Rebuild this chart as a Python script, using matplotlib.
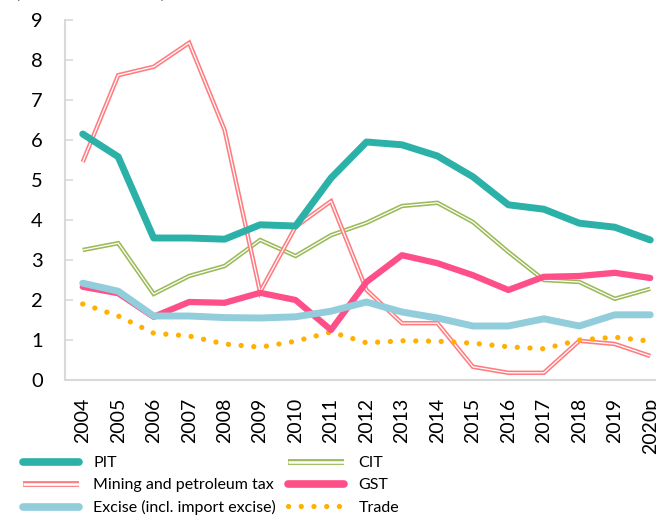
import matplotlib
matplotlib.use("Agg")
import matplotlib.pyplot as plt
import matplotlib.patheffects as pe
import numpy as np

plt.rcParams['font.family'] = ['Lato', 'DejaVu Sans']

years = ["2004", "2005", "2006", "2007", "2008", "2009", "2010", "2011", "2012",
         "2013", "2014", "2015", "2016", "2017", "2018", "2019", "2020p"]

pit = [6.15, 5.58, 3.55, 3.55, 3.52, 3.88, 3.85, 5.05, 5.95, 5.88, 5.6, 5.08,
       4.38, 4.27, 3.92, 3.82, 3.5]
mining = [5.45, 7.62, 7.83, 8.43, 6.25, 2.2, 3.83, 4.47, 2.25, 1.42, 1.42, 0.33,
          0.18, 0.18, 0.98, 0.9, 0.6]
cit = [3.25, 3.42, 2.15, 2.6, 2.85, 3.5, 3.1, 3.62, 3.93, 4.35, 4.43, 3.95,
       3.2, 2.5, 2.45, 2.03, 2.28]
gst = [2.33, 2.17, 1.58, 1.95, 1.93, 2.18, 2.0, 1.25, 2.45, 3.12, 2.92, 2.62,
       2.25, 2.58, 2.6, 2.68, 2.55]
excise = [2.42, 2.22, 1.6, 1.6, 1.56, 1.55, 1.58, 1.72, 1.95, 1.7, 1.55, 1.35,
          1.35, 1.53, 1.35, 1.63, 1.63]
trade = [1.9, 1.6, 1.17, 1.1, 0.9, 0.82, 0.97, 1.2, 0.93, 0.98, 0.97, 0.92,
         0.83, 0.78, 1.0, 1.07, 0.97]

yticks = list(range(0, 10))

W, H = 656, 517
fig = plt.figure(figsize=(W / 100, H / 100), dpi=100)
ax = fig.add_axes([65 / W, 1 - 380 / H, (668 - 65) / W, (380 - 20) / H])

x = np.arange(len(years))

def double_line(vals, color, label):
    ln, = ax.plot(x, vals, color='white', lw=0.9, label=label,
                  solid_joinstyle='miter', solid_capstyle='butt',
                  path_effects=[pe.Stroke(linewidth=3.2, foreground=color),
                                pe.Normal()])
    return ln

h_pit, = ax.plot(x, pit, color='#2CB1A9', lw=5, label='PIT',
                 solid_joinstyle='round', solid_capstyle='round')
h_cit = double_line(cit, '#9BBB59', 'CIT')
h_min = double_line(mining, '#FF7C80', 'Mining and petroleum tax')
h_exc, = ax.plot(x, excise, color='#92CDDC', lw=5, label='Excise (incl. import excise)',
                 solid_joinstyle='round', solid_capstyle='round')
h_gst, = ax.plot(x, gst, color='#FF4F88', lw=4.5, label='GST',
                 solid_joinstyle='round', solid_capstyle='round')
h_trd, = ax.plot(x, trade, color='#FFB000', lw=3.8, label='Trade',
                 linestyle=(0, (0.01, 2.4)), dash_capstyle='round')

# stacking order of the thick series
h_pit.set_zorder(3)
h_gst.set_zorder(4)
h_exc.set_zorder(5)

ax.set_xlim(-0.5, len(years) - 0.5)
ax.set_ylim(0, 9)
ax.set_yticks(yticks)
ax.set_xticks(x)
ax.set_xticklabels(years, rotation=90, fontsize=14)
ax.tick_params(axis='y', labelsize=14.5, direction='in', length=6, color='#D9D9D9',
               width=1.2, pad=16)
ax.tick_params(axis='x', length=0, pad=13)
for s in ['top', 'right']:
    ax.spines[s].set_visible(False)
for s in ['left', 'bottom']:
    ax.spines[s].set_color('#D9D9D9')
    ax.spines[s].set_linewidth(1.5)

fig.text(15 / W, 1 + 3 / H, "(Per cent of GDP)", fontsize=14, ha='left',
         va='baseline')

# two-column key below the chart, one legend per column
leg_kw = dict(loc='upper left', frameon=False, fontsize=11.5, handlelength=3.5,
              handletextpad=0.9, labelspacing=0.5, borderaxespad=0, borderpad=0)
col1 = [h_pit, h_min, h_exc]
col2 = [h_cit, h_gst, h_trd]
legs = []
for hs, x0 in ((col1, 23), (col2, 288)):
    lg = fig.legend(handles=hs, labels=[h.get_label() for h in hs],
                    bbox_to_anchor=(x0 / W, 1 - 456 / H), **leg_kw)
    legs.append(lg)
for lg in legs:
    for lh in lg.get_lines():
        effects = lh.get_path_effects()
        if effects:
            col = effects[0]._gc['foreground']
            lh.set_linewidth(1.8)
            lh.set_path_effects([pe.Stroke(linewidth=4.2, foreground=col),
                                 pe.Normal()])
        elif lh.get_linestyle() == '-':
            lh.set_linewidth(5.5)

fig.savefig("out.png", dpi=100)
